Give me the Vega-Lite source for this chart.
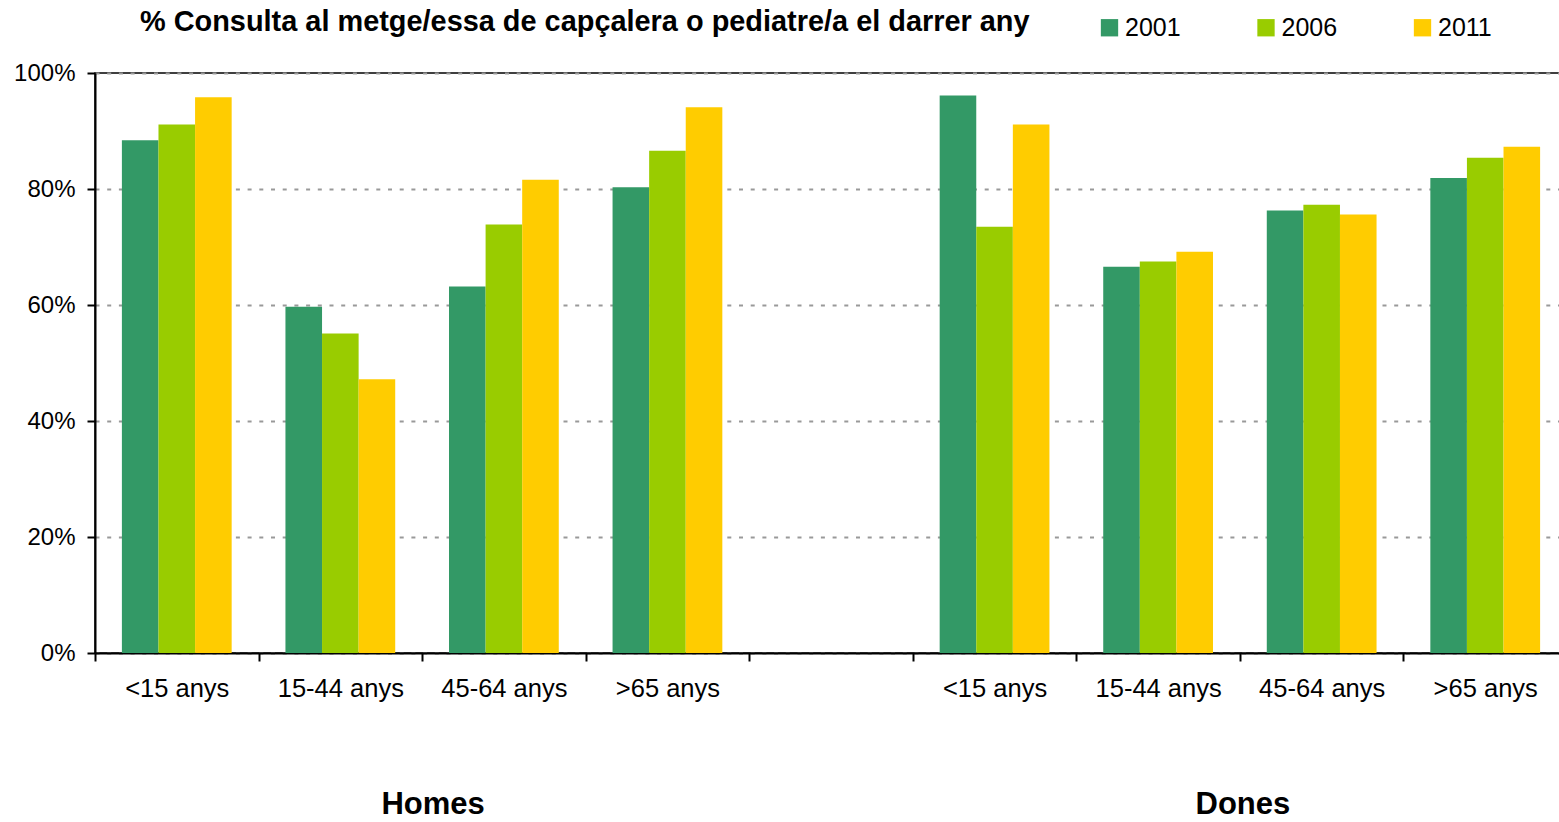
{
  "$schema": "https://vega.github.io/schema/vega-lite/v6.json",
  "width": 1472,
  "height": 580,
  "autosize": "none",
  "padding": {"left": 95, "top": 73, "right": 0, "bottom": 169},
  "background": "white",
  "config": {
    "font": "Liberation Sans",
    "view": {"stroke": "#000000", "strokeWidth": 1.5}
  },
  "title": {
    "text": "% Consulta al metge/essa de capçalera o pediatre/a el darrer any",
    "anchor": "start",
    "frame": "group",
    "dx": 45,
    "offset": -22,
    "fontSize": 28.9,
    "fontWeight": "bold",
    "font": "Liberation Sans",
    "color": "#000000"
  },
  "layer": [
    {
      "data": {
        "values": [
          {"cat": "H|<15 anys", "year": "2001", "val": 88.4},
          {"cat": "H|<15 anys", "year": "2006", "val": 91.1},
          {"cat": "H|<15 anys", "year": "2011", "val": 95.8},
          {"cat": "H|15-44 anys", "year": "2001", "val": 59.7},
          {"cat": "H|15-44 anys", "year": "2006", "val": 55.1},
          {"cat": "H|15-44 anys", "year": "2011", "val": 47.2},
          {"cat": "H|45-64 anys", "year": "2001", "val": 63.2},
          {"cat": "H|45-64 anys", "year": "2006", "val": 73.9},
          {"cat": "H|45-64 anys", "year": "2011", "val": 81.6},
          {"cat": "H|>65 anys", "year": "2001", "val": 80.3},
          {"cat": "H|>65 anys", "year": "2006", "val": 86.6},
          {"cat": "H|>65 anys", "year": "2011", "val": 94.1},
          {"cat": "D|<15 anys", "year": "2001", "val": 96.1},
          {"cat": "D|<15 anys", "year": "2006", "val": 73.5},
          {"cat": "D|<15 anys", "year": "2011", "val": 91.1},
          {"cat": "D|15-44 anys", "year": "2001", "val": 66.6},
          {"cat": "D|15-44 anys", "year": "2006", "val": 67.5},
          {"cat": "D|15-44 anys", "year": "2011", "val": 69.2},
          {"cat": "D|45-64 anys", "year": "2001", "val": 76.3},
          {"cat": "D|45-64 anys", "year": "2006", "val": 77.3},
          {"cat": "D|45-64 anys", "year": "2011", "val": 75.6},
          {"cat": "D|>65 anys", "year": "2001", "val": 81.9},
          {"cat": "D|>65 anys", "year": "2006", "val": 85.4},
          {"cat": "D|>65 anys", "year": "2011", "val": 87.3}
        ]
      },
      "mark": {"type": "bar"},
      "encoding": {
        "x": {
          "field": "cat",
          "type": "nominal",
          "sort": null,
          "scale": {
            "domain": ["H|<15 anys", "H|15-44 anys", "H|45-64 anys", "H|>65 anys", "gap|", "D|<15 anys", "D|15-44 anys", "D|45-64 anys", "D|>65 anys"],
            "paddingInner": 0,
            "paddingOuter": 0
          },
          "axis": {
            "title": null,
            "labelExpr": "split(datum.value, '|')[1]",
            "labelAngle": 0,
            "labelFontSize": 25.5,
            "labelColor": "#000000",
            "labelPadding": 15,
            "tickBand": "extent",
            "tickSize": 8,
            "tickWidth": 2,
            "tickColor": "#000000",
            "domainColor": "#000000",
            "domainWidth": 2,
            "grid": false
          }
        },
        "xOffset": {
          "field": "year",
          "type": "nominal",
          "scale": {"paddingInner": 0, "paddingOuter": 0.735}
        },
        "y": {
          "field": "val",
          "type": "quantitative",
          "scale": {"domain": [0, 100], "nice": false},
          "axis": {
            "title": null,
            "values": [0, 20, 40, 60, 80, 100],
            "labelExpr": "datum.value + '%'",
            "labelFontSize": 24,
            "labelColor": "#000000",
            "labelPadding": 12,
            "tickSize": 8,
            "tickWidth": 2,
            "tickColor": "#000000",
            "domainColor": "#000000",
            "domainWidth": 2,
            "grid": true,
            "gridColor": "#999999",
            "gridDash": [4, 7.7],
            "gridWidth": 2
          }
        },
        "color": {
          "field": "year",
          "type": "nominal",
          "scale": {"domain": ["2001", "2006", "2011"], "range": ["#339966", "#99CC00", "#FFCC00"]},
          "legend": {
            "title": null,
            "orient": "none",
            "legendX": 1002,
            "legendY": -58,
            "direction": "horizontal",
            "symbolType": "square",
            "symbolSize": 300,
            "symbolStrokeWidth": 0,
            "symbolOpacity": 1,
            "labelFontSize": 25,
            "labelColor": "#000000",
            "labelOffset": 3,
            "columnPadding": 72.5,
            "padding": 0
          }
        }
      }
    },
    {
      "data": {"values": [{"sexe": "Homes"}]},
      "mark": {"type": "text", "fontSize": 31, "fontWeight": "bold", "align": "center", "baseline": "middle", "color": "#000000", "dx": 11},
      "encoding": {
        "x": {"datum": "H|45-64 anys", "bandPosition": 0},
        "y": {"datum": -26.2},
        "text": {"field": "sexe", "type": "nominal"}
      }
    },
    {
      "data": {"values": [{"sexe": "Dones"}]},
      "mark": {"type": "text", "fontSize": 31, "fontWeight": "bold", "align": "center", "baseline": "middle", "color": "#000000", "dx": 3},
      "encoding": {
        "x": {"datum": "D|45-64 anys", "bandPosition": 0},
        "y": {"datum": -26.2},
        "text": {"field": "sexe", "type": "nominal"}
      }
    }
  ]
}
